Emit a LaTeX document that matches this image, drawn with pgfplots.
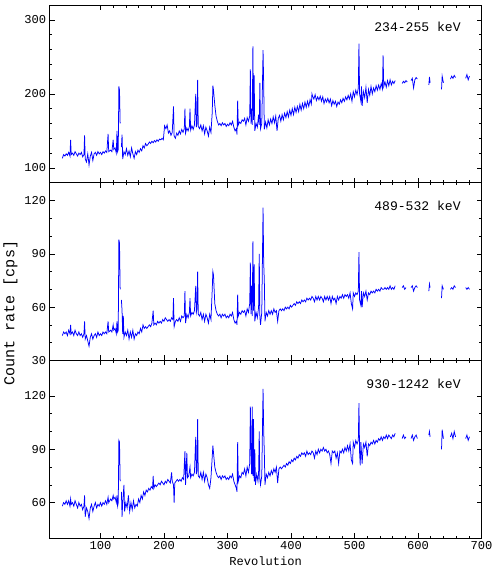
\documentclass[border=0pt]{standalone}
\usepackage{fontspec}
\setmainfont{Liberation Mono}
\usepackage{pgfplots}
\usepgfplotslibrary{groupplots}
\pgfplotsset{compat=1.18}
\definecolor{rate}{RGB}{0,0,255}

\begin{document}
\begin{tikzpicture}
\begin{groupplot}[
    group style={group size=1 by 3, vertical sep=0pt, xticklabels at=edge bottom},
    scale only axis,
    width=429pt, height=176.5pt,
    xmin=20, xmax=700,
    xtick={100,200,...,700},
    minor x tick num=4,
    tick align=inside,
    major tick length=5pt, minor tick length=2.5pt,
    axis line style={line width=0.7pt},
    every tick/.style={black, line width=0.6pt},
    /pgf/number format/assume math mode=true,
    ticklabel style={font=\fontsize{12}{12}\selectfont},
    label style={font=\fontsize{12}{12}\selectfont},
    unbounded coords=jump,
]
\nextgroupplot[ymin=80, ymax=320, ytick={100,200,300}, minor y tick num=4]
\addplot[rate, line width=0.75pt] table[row sep=\\]{
x y\\
40 113\\ 42 118\\ 44 116\\ 46 119\\ 48 117\\ 50 121\\ 52 116\\ 53 138\\ 54 118\\ 56 120\\ 58 117\\ 60 122\\ 62 119\\ 64 116\\ 66 120\\ 68 118\\ 70 121\\ 72 115\\ 74 118\\ 75 144\\ 76 112\\ 78 108\\ 80 119\\ 82 104\\ 84 116\\ 86 121\\ 88 110\\ 90 119\\ 92 121\\ 94 117\\ 96 122\\ 98 119\\ 100 121\\ 102 118\\ 104 122\\ 106 120\\ 108 123\\ 110 121\\ 112 146\\ 113 122\\ 116 124\\ 118 122\\ 120 138\\ 121 125\\ 123 127\\ 125 120\\ 126 150\\ 127 122\\ 128 125\\ 129 210\\ 130 205\\ 131 160\\ 132 nan\\
133 128\\ 134 145\\ 135 112\\ 137 122\\ 139 118\\ 141 126\\ 143 117\\ 145 123\\ 147 115\\ 149 127\\ 151 119\\ 153 113\\ 155 122\\ 157 118\\ 159 124\\ 161 121\\ 163 126\\ 165 123\\ 167 130\\ 169 127\\ 171 133\\ 173 130\\ 175 132\\ 177 135\\ 179 133\\ 181 136\\ 183 134\\ 185 137\\ 187 135\\ 189 138\\ 191 136\\ 193 139\\ 195 138\\ 197 140\\ 199 138\\ 201 157\\ 203 153\\ 205 158\\ 207 147\\ 209 150\\ 211 144\\ 213 148\\ 215 183\\ 216 143\\ 218 140\\ 220 147\\ 222 144\\ 224 150\\ 226 146\\ 228 152\\ 230 148\\ 232 153\\ 233 180\\ 234 147\\ 236 154\\ 238 150\\ 240 156\\ 241 180\\ 242 151\\ 244 157\\ 246 152\\ 248 158\\ 250 200\\ 251 155\\ 252 160\\ 253 219\\ 254 156\\ 256 153\\ 258 158\\ 260 150\\ 262 157\\ 264 146\\ 266 155\\ 268 150\\ 270 143\\ 272 155\\ 274 148\\ 276 175\\ 277 211\\ 278 205\\ 280 185\\ 282 170\\ 284 163\\ 286 158\\ 288 160\\ 290 157\\ 292 161\\ 294 158\\ 296 160\\ 298 156\\ 300 159\\ 302 157\\ 304 161\\ 306 158\\ 308 163\\ 310 155\\ 312 150\\ 314 153\\ 315 145\\ 316 191\\ 317 158\\ 319 162\\ 321 160\\ 323 165\\ 325 163\\ 327 167\\ 329 158\\ 331 168\\ 333 163\\ 335 170\\ 336 233\\ 337 160\\ 338 180\\ 339 158\\ 340 264\\ 341 165\\ 342 225\\ 343 150\\ 345 160\\ 347 155\\ 349 172\\ 350 158\\ 351 215\\ 352 153\\ 354 160\\ 356 259\\ 357 214\\ 358 152\\ 360 162\\ 362 154\\ 364 165\\ 366 158\\ 368 166\\ 370 160\\ 372 169\\ 374 161\\ 376 170\\ 378 150\\ 380 167\\ 382 171\\ 384 163\\ 386 172\\ 388 165\\ 390 174\\ 392 168\\ 394 176\\ 396 169\\ 398 178\\ 400 171\\ 402 180\\ 404 172\\ 406 182\\ 408 175\\ 410 183\\ 412 176\\ 414 186\\ 416 178\\ 418 187\\ 420 180\\ 422 189\\ 424 182\\ 426 190\\ 428 183\\ 430 192\\ 432 186\\ 433 200\\ 434 197\\ 436 193\\ 438 199\\ 440 191\\ 442 196\\ 444 192\\ 446 197\\ 448 190\\ 450 196\\ 452 187\\ 454 193\\ 456 189\\ 458 194\\ 460 188\\ 462 193\\ 464 184\\ 466 191\\ 468 186\\ 470 190\\ 472 183\\ 474 189\\ 476 186\\ 478 192\\ 480 188\\ 482 194\\ 484 190\\ 486 196\\ 488 192\\ 490 198\\ 492 193\\ 494 200\\ 496 190\\ 498 203\\ 500 196\\ 502 205\\ 504 199\\ 506 208\\ 507 268\\ 508 200\\ 510 190\\ 511 210\\ 512 184\\ 514 203\\ 516 195\\ 518 209\\ 520 188\\ 522 206\\ 524 198\\ 526 210\\ 528 200\\ 530 208\\ 532 203\\ 534 211\\ 536 205\\ 538 212\\ 540 206\\ 542 214\\ 544 207\\ 545 252\\ 546 210\\ 548 216\\ 550 209\\ 552 218\\ 554 211\\ 556 219\\ 558 212\\ 560 217\\ 562 214\\ 564 218\\ 566 nan\\
575 214\\ 577 217\\ 579 215\\ 581 218\\ 583 216\\ 585 nan\\ 589 218\\ 591 221\\ 593 208\\ 595 219\\ 597 222\\ 599 220\\ 601 nan\\ 617 212\\ 618 223\\ 619 215\\ 620 nan\\ 637 206\\ 638 224\\ 640 215\\ 641 nan\\ 651 220\\ 653 224\\ 655 221\\ 657 225\\ 659 222\\ 661 nan\\ 675 221\\ 677 226\\ 679 219\\ 681 224\\
};
\node[anchor=east, font=\fontsize{13}{13}\selectfont] at (rel axis cs:0.96,0.875) {234-255 keV};

\nextgroupplot[ymin=30, ymax=130, ytick={30,60,90,120}, minor y tick num=2,
    ylabel={Count rate [cps]},
    ylabel style={font=\fontsize{15}{15}\selectfont, at={(ticklabel cs:0.265)}}]
\addplot[rate, line width=0.75pt] table[row sep=\\]{
x y\\
40 44\\ 42 46\\ 44 45\\ 46 46\\ 48 44\\ 50 47\\ 52 45\\ 53 50\\ 54 45\\ 56 46\\ 58 44\\ 60 47\\ 62 45\\ 64 44\\ 66 46\\ 68 44\\ 70 45\\ 72 43\\ 74 45\\ 75 52\\ 76 42\\ 78 44\\ 80 41\\ 82 38\\ 84 43\\ 86 45\\ 88 42\\ 90 44\\ 92 45\\ 94 43\\ 96 46\\ 98 44\\ 100 45\\ 102 44\\ 104 46\\ 106 45\\ 108 46\\ 110 45\\ 112 52\\ 113 46\\ 116 47\\ 118 46\\ 120 50\\ 121 47\\ 123 48\\ 125 45\\ 126 52\\ 127 46\\ 128 47\\ 129 98\\ 130 96\\ 131 70\\ 132 nan\\
133 64\\ 134 58\\ 135 45\\ 136 55\\ 137 43\\ 139 46\\ 141 44\\ 143 47\\ 145 42\\ 147 46\\ 149 43\\ 151 47\\ 153 42\\ 155 45\\ 157 44\\ 159 46\\ 161 45\\ 163 48\\ 165 46\\ 167 50\\ 169 48\\ 171 49\\ 173 48\\ 175 49\\ 177 50\\ 179 49\\ 181 51\\ 183 58\\ 184 50\\ 186 51\\ 188 50\\ 190 52\\ 192 51\\ 194 52\\ 196 51\\ 198 53\\ 200 52\\ 202 54\\ 204 53\\ 206 52\\ 208 53\\ 210 52\\ 212 54\\ 214 53\\ 215 65\\ 216 49\\ 218 52\\ 220 53\\ 222 52\\ 224 54\\ 226 52\\ 228 55\\ 230 54\\ 232 55\\ 233 69\\ 234 51\\ 236 56\\ 238 54\\ 240 57\\ 241 65\\ 242 55\\ 244 57\\ 246 56\\ 248 58\\ 250 72\\ 251 57\\ 252 59\\ 253 80\\ 254 56\\ 256 55\\ 258 57\\ 260 53\\ 262 56\\ 264 52\\ 266 56\\ 268 54\\ 270 51\\ 272 56\\ 274 53\\ 276 70\\ 277 80\\ 278 78\\ 280 62\\ 282 58\\ 284 56\\ 286 55\\ 288 56\\ 290 54\\ 292 56\\ 294 55\\ 296 56\\ 298 54\\ 300 55\\ 302 54\\ 304 56\\ 306 55\\ 308 57\\ 310 53\\ 312 51\\ 314 52\\ 315 50\\ 316 67\\ 317 55\\ 319 57\\ 321 56\\ 323 58\\ 325 57\\ 327 58\\ 329 55\\ 331 59\\ 333 57\\ 335 62\\ 336 85\\ 337 56\\ 338 72\\ 339 55\\ 340 97\\ 341 58\\ 342 84\\ 343 52\\ 345 57\\ 347 54\\ 349 60\\ 350 90\\ 351 55\\ 352 50\\ 354 57\\ 356 116\\ 357 85\\ 358 75\\ 359 52\\ 361 57\\ 363 55\\ 365 58\\ 367 56\\ 369 58\\ 371 56\\ 373 59\\ 375 57\\ 377 58\\ 379 52\\ 381 58\\ 383 59\\ 385 58\\ 387 59\\ 389 58\\ 391 60\\ 393 59\\ 395 60\\ 397 59\\ 399 61\\ 401 60\\ 403 61\\ 405 62\\ 407 61\\ 409 63\\ 411 62\\ 413 63\\ 415 62\\ 417 64\\ 419 63\\ 421 64\\ 423 63\\ 425 65\\ 427 64\\ 429 65\\ 431 64\\ 433 66\\ 435 65\\ 437 63\\ 439 66\\ 441 64\\ 443 66\\ 445 64\\ 447 66\\ 449 65\\ 451 63\\ 453 66\\ 455 64\\ 457 66\\ 459 64\\ 461 66\\ 463 62\\ 465 66\\ 467 64\\ 469 65\\ 471 62\\ 473 66\\ 475 64\\ 477 66\\ 479 65\\ 481 67\\ 483 65\\ 485 67\\ 487 66\\ 489 67\\ 491 65\\ 493 68\\ 495 62\\ 497 59\\ 498 68\\ 500 66\\ 502 68\\ 504 67\\ 506 69\\ 507 91\\ 508 64\\ 510 61\\ 511 69\\ 512 60\\ 514 68\\ 516 66\\ 518 69\\ 520 64\\ 522 68\\ 524 67\\ 526 69\\ 528 68\\ 530 69\\ 532 68\\ 534 70\\ 536 69\\ 538 70\\ 540 69\\ 542 71\\ 544 70\\ 546 70\\ 548 71\\ 550 70\\ 552 71\\ 554 70\\ 556 72\\ 558 70\\ 560 71\\ 562 70\\ 564 72\\ 566 nan\\
575 71\\ 577 72\\ 579 70\\ 581 71\\ 583 nan\\ 589 71\\ 591 72\\ 593 69\\ 595 71\\ 597 72\\ 599 71\\ 601 nan\\ 617 69\\ 618 73\\ 619 71\\ 620 nan\\ 637 65\\ 638 72\\ 640 70\\ 641 nan\\ 651 70\\ 653 71\\ 655 70\\ 657 72\\ 659 71\\ 661 nan\\ 675 71\\ 677 70\\ 679 71\\ 681 70\\
};
\node[anchor=east, font=\fontsize{13}{13}\selectfont] at (rel axis cs:0.96,0.87) {489-532 keV};

\nextgroupplot[ymin=40, ymax=140, ytick={60,90,120}, minor y tick num=2,
    xlabel={Revolution}]
\addplot[rate, line width=0.75pt] table[row sep=\\]{
x y\\
40 58\\ 42 60\\ 44 59\\ 46 61\\ 48 59\\ 50 61\\ 52 58\\ 53 62\\ 54 59\\ 56 60\\ 58 58\\ 60 61\\ 62 59\\ 64 57\\ 66 60\\ 68 58\\ 70 59\\ 72 56\\ 74 58\\ 75 64\\ 76 52\\ 78 57\\ 80 55\\ 82 51\\ 84 57\\ 86 59\\ 88 55\\ 90 58\\ 92 60\\ 94 57\\ 96 59\\ 98 58\\ 100 60\\ 102 58\\ 104 60\\ 106 59\\ 108 61\\ 110 59\\ 112 63\\ 113 60\\ 116 62\\ 118 61\\ 120 64\\ 121 62\\ 123 63\\ 125 60\\ 126 64\\ 127 58\\ 128 60\\ 129 95\\ 130 94\\ 131 72\\ 132 nan\\
133 66\\ 134 52\\ 135 60\\ 137 70\\ 138 55\\ 140 60\\ 142 57\\ 144 64\\ 146 55\\ 148 60\\ 150 56\\ 152 61\\ 154 57\\ 156 59\\ 158 58\\ 160 62\\ 162 60\\ 164 64\\ 166 62\\ 168 66\\ 170 64\\ 172 67\\ 174 66\\ 176 68\\ 178 67\\ 180 69\\ 182 68\\ 183 75\\ 184 68\\ 186 70\\ 188 69\\ 190 70\\ 192 71\\ 194 70\\ 196 72\\ 198 71\\ 200 70\\ 202 72\\ 204 71\\ 206 73\\ 208 72\\ 210 71\\ 212 77\\ 213 72\\ 215 70\\ 216 60\\ 217 71\\ 219 72\\ 221 73\\ 223 72\\ 225 73\\ 227 72\\ 229 74\\ 231 73\\ 233 89\\ 234 70\\ 236 88\\ 237 74\\ 239 75\\ 241 80\\ 242 74\\ 244 76\\ 246 75\\ 248 77\\ 250 97\\ 251 76\\ 252 78\\ 253 107\\ 254 75\\ 256 74\\ 258 77\\ 260 73\\ 262 77\\ 264 72\\ 266 76\\ 268 74\\ 270 70\\ 272 68\\ 274 74\\ 276 86\\ 277 92\\ 278 88\\ 280 80\\ 282 77\\ 284 75\\ 286 74\\ 288 75\\ 290 73\\ 292 75\\ 294 74\\ 296 75\\ 298 73\\ 300 74\\ 302 73\\ 304 75\\ 306 74\\ 308 76\\ 310 72\\ 312 70\\ 314 68\\ 315 66\\ 316 94\\ 317 72\\ 319 75\\ 321 74\\ 323 77\\ 325 76\\ 327 79\\ 329 75\\ 331 80\\ 333 77\\ 335 82\\ 336 114\\ 337 89\\ 338 76\\ 339 114\\ 340 75\\ 341 107\\ 342 72\\ 343 90\\ 344 70\\ 346 76\\ 348 72\\ 349 77\\ 350 100\\ 351 73\\ 352 70\\ 354 75\\ 356 124\\ 357 101\\ 358 88\\ 359 70\\ 361 76\\ 363 74\\ 365 77\\ 367 75\\ 369 78\\ 371 76\\ 373 79\\ 375 77\\ 377 80\\ 379 71\\ 381 79\\ 383 80\\ 385 79\\ 387 80\\ 389 81\\ 391 80\\ 393 82\\ 395 81\\ 397 83\\ 399 82\\ 401 84\\ 403 83\\ 405 85\\ 407 84\\ 409 86\\ 411 85\\ 413 87\\ 415 86\\ 417 88\\ 419 87\\ 421 88\\ 423 86\\ 425 89\\ 427 87\\ 429 88\\ 431 87\\ 433 89\\ 435 88\\ 437 85\\ 439 89\\ 441 87\\ 443 90\\ 445 88\\ 447 90\\ 449 89\\ 451 91\\ 453 89\\ 455 90\\ 457 88\\ 459 89\\ 461 87\\ 463 82\\ 465 89\\ 467 88\\ 469 89\\ 471 85\\ 473 88\\ 475 82\\ 477 89\\ 479 88\\ 481 90\\ 483 88\\ 485 91\\ 487 89\\ 489 92\\ 491 89\\ 493 93\\ 495 84\\ 497 82\\ 498 94\\ 500 91\\ 502 95\\ 504 93\\ 506 95\\ 507 116\\ 508 88\\ 509 81\\ 510 94\\ 512 82\\ 514 93\\ 516 91\\ 518 94\\ 520 86\\ 522 93\\ 524 92\\ 526 94\\ 528 93\\ 530 95\\ 532 93\\ 534 95\\ 536 94\\ 538 96\\ 540 95\\ 542 97\\ 544 95\\ 546 97\\ 548 96\\ 550 98\\ 552 96\\ 554 98\\ 556 97\\ 558 96\\ 560 98\\ 562 97\\ 564 99\\ 566 nan\\
575 96\\ 577 98\\ 579 96\\ 581 97\\ 583 nan\\ 589 96\\ 591 98\\ 593 95\\ 595 97\\ 597 98\\ 599 96\\ 601 nan\\ 617 98\\ 618 100\\ 619 97\\ 620 nan\\ 637 90\\ 638 101\\ 640 96\\ 641 nan\\ 651 97\\ 653 99\\ 655 96\\ 657 100\\ 659 97\\ 661 nan\\ 675 96\\ 677 98\\ 679 95\\ 681 97\\
};
\node[anchor=east, font=\fontsize{13}{13}\selectfont] at (rel axis cs:0.96,0.87) {930-1242 keV};
\end{groupplot}
\path ([yshift=5pt]group c1r1.north);
\end{tikzpicture}
\end{document}
